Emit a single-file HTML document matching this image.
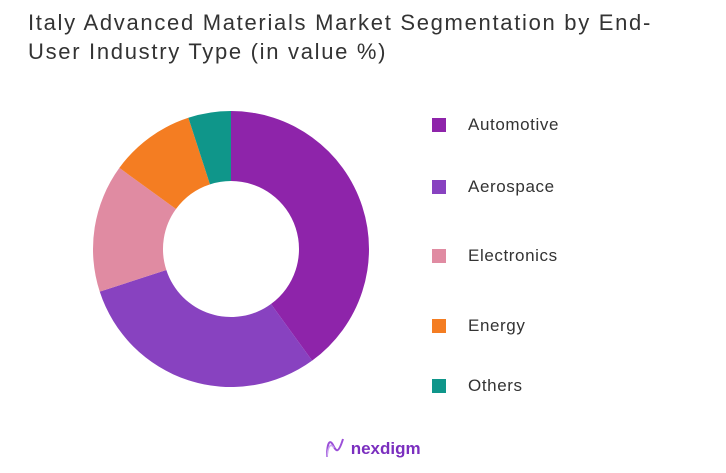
<!DOCTYPE html>
<html><head><meta charset="utf-8"><style>
body{margin:0;width:726px;height:473px;background:#fff;font-family:"Liberation Sans",sans-serif;overflow:hidden;position:relative}
.title{position:absolute;left:28px;top:8px;font-size:22px;line-height:29px;color:#333;letter-spacing:1.7px}
.leg{position:absolute;left:432px;font-size:17px;color:#333;letter-spacing:0.6px}
.leg span.sw{position:absolute;left:0;top:0;width:14px;height:14px}
.leg span.t{position:absolute;left:36px;top:-3px;white-space:nowrap}
</style></head><body>
<div class="title">Italy Advanced Materials Market Segmentation by End-<br>User Industry Type (in value %)</div>
<svg id="chart" width="726" height="473" style="position:absolute;left:0;top:0"></svg>
<div id="legend"></div>
<div style="position:absolute;left:324px;top:437px;font-size:17px;font-weight:bold;color:#7b2fbf">
<svg width="22" height="22" viewBox="0 0 22 22" style="vertical-align:-5px"><path d="M3 20 C3 5,6 2,9 8 C12 14,14 18,19 2" stroke="#9b4fd8" stroke-width="2" fill="none"/><path d="M3 20 C4 8,7 6,10 11" stroke="#c9a3ef" stroke-width="1.5" fill="none"/></svg> nexdigm</div>
<script>
const categories=["Automotive","Aerospace","Electronics","Energy","Others"];
const values=[40,30,15,10,5];
const colors=["#8e24aa","#8842c0","#e08ba2","#f47d22","#0f968a"];
const legendTops=[118,180,249,319,379];
const svg=document.getElementById('chart');
const cx=231,cy=249,R=138,r=68;
const total=values.reduce((a,b)=>a+b,0);
let acc=0;
function pt(a,rad){return [cx+rad*Math.sin(a),cy-rad*Math.cos(a)];}
values.forEach((v,i)=>{
 const a0=acc/total*2*Math.PI;acc+=v;const a1=acc/total*2*Math.PI;
 const lg=(a1-a0)>Math.PI?1:0;
 const [x0,y0]=pt(a0,R),[x1,y1]=pt(a1,R),[x2,y2]=pt(a1,r),[x3,y3]=pt(a0,r);
 const p=document.createElementNS('http://www.w3.org/2000/svg','path');
 p.setAttribute('d',`M${x0} ${y0}A${R} ${R} 0 ${lg} 1 ${x1} ${y1}L${x2} ${y2}A${r} ${r} 0 ${lg} 0 ${x3} ${y3}Z`);
 p.setAttribute('fill',colors[i]);
 
 
 svg.appendChild(p);
});
const leg=document.getElementById('legend');
categories.forEach((c,i)=>{
 const d=document.createElement('div');
 d.className='leg';d.style.top=legendTops[i]+'px';
 
 
 d.innerHTML=`<span class="sw" style="background:${colors[i]}"></span><span class="t">${c}</span>`;
 leg.appendChild(d);
});
</script>
</body></html>
